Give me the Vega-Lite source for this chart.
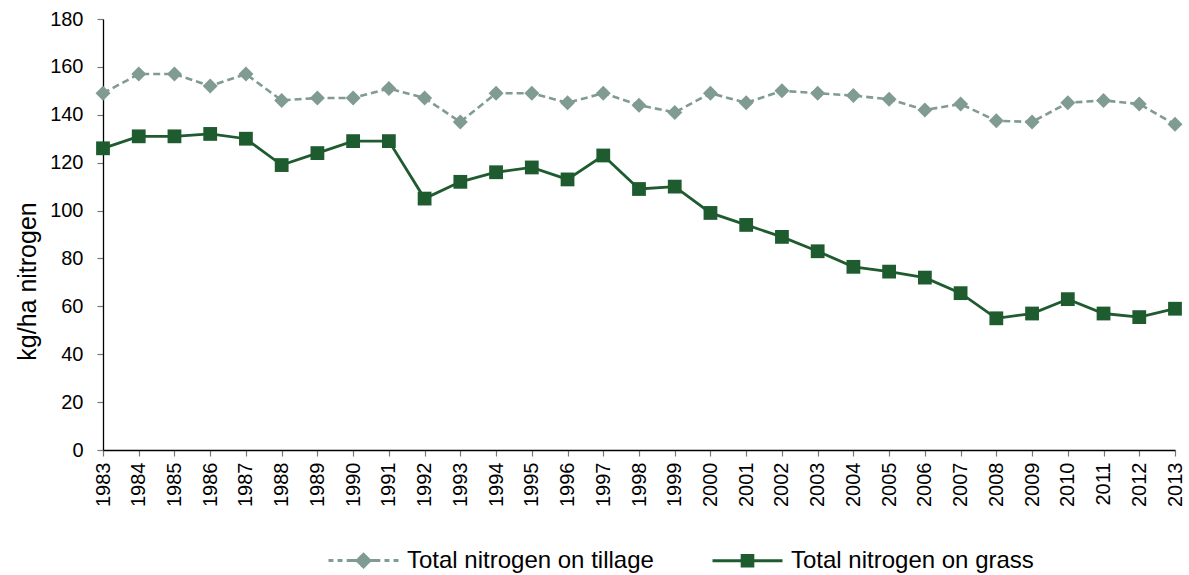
{
  "$schema": "https://vega.github.io/schema/vega-lite/v6.json",
  "width": 1072,
  "height": 431,
  "autosize": {"type": "none"},
  "padding": {"left": 103, "top": 19, "right": 14, "bottom": 125},
  "background": "white",
  "config": {
    "view": {"stroke": null},
    "font": "Liberation Sans",
    "axis": {"labelFont": "Liberation Sans", "titleFont": "Liberation Sans", "labelColor": "#000", "titleColor": "#000", "domainColor": "#000", "domainWidth": 1.3, "tickColor": "#777", "tickWidth": 1.2, "grid": false},
    "legend": {"labelFont": "Liberation Sans", "labelColor": "#000"}
  },
  "data": {
    "values": [
      {"year": "1983", "series": "Total nitrogen on tillage", "value": 149},
      {"year": "1984", "series": "Total nitrogen on tillage", "value": 157},
      {"year": "1985", "series": "Total nitrogen on tillage", "value": 157},
      {"year": "1986", "series": "Total nitrogen on tillage", "value": 152},
      {"year": "1987", "series": "Total nitrogen on tillage", "value": 157},
      {"year": "1988", "series": "Total nitrogen on tillage", "value": 146},
      {"year": "1989", "series": "Total nitrogen on tillage", "value": 147},
      {"year": "1990", "series": "Total nitrogen on tillage", "value": 147},
      {"year": "1991", "series": "Total nitrogen on tillage", "value": 151},
      {"year": "1992", "series": "Total nitrogen on tillage", "value": 147},
      {"year": "1993", "series": "Total nitrogen on tillage", "value": 137},
      {"year": "1994", "series": "Total nitrogen on tillage", "value": 149},
      {"year": "1995", "series": "Total nitrogen on tillage", "value": 149},
      {"year": "1996", "series": "Total nitrogen on tillage", "value": 145},
      {"year": "1997", "series": "Total nitrogen on tillage", "value": 149},
      {"year": "1998", "series": "Total nitrogen on tillage", "value": 144},
      {"year": "1999", "series": "Total nitrogen on tillage", "value": 141},
      {"year": "2000", "series": "Total nitrogen on tillage", "value": 149},
      {"year": "2001", "series": "Total nitrogen on tillage", "value": 145},
      {"year": "2002", "series": "Total nitrogen on tillage", "value": 150},
      {"year": "2003", "series": "Total nitrogen on tillage", "value": 149},
      {"year": "2004", "series": "Total nitrogen on tillage", "value": 148},
      {"year": "2005", "series": "Total nitrogen on tillage", "value": 146.5},
      {"year": "2006", "series": "Total nitrogen on tillage", "value": 142},
      {"year": "2007", "series": "Total nitrogen on tillage", "value": 144.5},
      {"year": "2008", "series": "Total nitrogen on tillage", "value": 137.5},
      {"year": "2009", "series": "Total nitrogen on tillage", "value": 137},
      {"year": "2010", "series": "Total nitrogen on tillage", "value": 145},
      {"year": "2011", "series": "Total nitrogen on tillage", "value": 146},
      {"year": "2012", "series": "Total nitrogen on tillage", "value": 144.5},
      {"year": "2013", "series": "Total nitrogen on tillage", "value": 136},
      {"year": "1983", "series": "Total nitrogen on grass", "value": 126},
      {"year": "1984", "series": "Total nitrogen on grass", "value": 131},
      {"year": "1985", "series": "Total nitrogen on grass", "value": 131},
      {"year": "1986", "series": "Total nitrogen on grass", "value": 132},
      {"year": "1987", "series": "Total nitrogen on grass", "value": 130},
      {"year": "1988", "series": "Total nitrogen on grass", "value": 119},
      {"year": "1989", "series": "Total nitrogen on grass", "value": 124},
      {"year": "1990", "series": "Total nitrogen on grass", "value": 129},
      {"year": "1991", "series": "Total nitrogen on grass", "value": 129},
      {"year": "1992", "series": "Total nitrogen on grass", "value": 105},
      {"year": "1993", "series": "Total nitrogen on grass", "value": 112},
      {"year": "1994", "series": "Total nitrogen on grass", "value": 116},
      {"year": "1995", "series": "Total nitrogen on grass", "value": 118},
      {"year": "1996", "series": "Total nitrogen on grass", "value": 113},
      {"year": "1997", "series": "Total nitrogen on grass", "value": 123},
      {"year": "1998", "series": "Total nitrogen on grass", "value": 109},
      {"year": "1999", "series": "Total nitrogen on grass", "value": 110},
      {"year": "2000", "series": "Total nitrogen on grass", "value": 99},
      {"year": "2001", "series": "Total nitrogen on grass", "value": 94},
      {"year": "2002", "series": "Total nitrogen on grass", "value": 89},
      {"year": "2003", "series": "Total nitrogen on grass", "value": 83},
      {"year": "2004", "series": "Total nitrogen on grass", "value": 76.5},
      {"year": "2005", "series": "Total nitrogen on grass", "value": 74.5},
      {"year": "2006", "series": "Total nitrogen on grass", "value": 72},
      {"year": "2007", "series": "Total nitrogen on grass", "value": 65.5},
      {"year": "2008", "series": "Total nitrogen on grass", "value": 55},
      {"year": "2009", "series": "Total nitrogen on grass", "value": 57},
      {"year": "2010", "series": "Total nitrogen on grass", "value": 63},
      {"year": "2011", "series": "Total nitrogen on grass", "value": 57},
      {"year": "2012", "series": "Total nitrogen on grass", "value": 55.5},
      {"year": "2013", "series": "Total nitrogen on grass", "value": 59}
    ]
  },
  "encoding": {
    "x": {
      "field": "year", "type": "ordinal",
      "scale": {"type": "point", "padding": 0},
      "axis": {"title": null, "labelAngle": -90, "labelFontSize": 20, "tickSize": 6, "labelPadding": 6}
    },
    "y": {
      "field": "value", "type": "quantitative",
      "scale": {"domain": [0, 180], "nice": false},
      "axis": {"values": [0, 20, 40, 60, 80, 100, 120, 140, 160, 180], "title": "kg/ha nitrogen", "titleFontSize": 25, "titleFontWeight": "normal", "titleX": -76, "titleY": 262, "titleAngle": -90, "titleAlign": "center", "titleBaseline": "middle", "labelFontSize": 20, "tickSize": 6, "labelPadding": 14}
    },
    "color": {
      "field": "series", "type": "nominal",
      "scale": {"domain": ["Total nitrogen on tillage", "Total nitrogen on grass"], "range": ["#7f9b92", "#1e5b2f"]},
      "legend": {
        "title": null, "orient": "none", "direction": "horizontal", "legendX": 245, "legendY": 526,
        "labelFontSize": 24, "labelLimit": 0, "labelOffset": 28, "columnPadding": 52,
        "symbolSize": 784, "symbolStrokeWidth": 3, "symbolDash": [1, 0],
        "encode": {
          "symbols": {
            "update": {
              "shape": {"signal": "datum.value === 'Total nitrogen on grass' ? 'M-2.5,0H2.5M-0.38,-0.38H0.38V0.38H-0.38Z' : 'M-2.5,0H-2.15M-1.85,0H-1.5M-1.2,0H-0.5M0.5,0H1.2M1.5,0H1.85M2.15,0H2.5M0,-0.45L0.45,0L0,0.45L-0.45,0Z'"},
              "fill": {"signal": "datum.value === 'Total nitrogen on grass' ? '#1e5b2f' : '#7f9b92'"},
              "stroke": {"signal": "datum.value === 'Total nitrogen on grass' ? '#1e5b2f' : '#7f9b92'"},
              "strokeWidth": {"value": 3},
              "opacity": {"value": 1}
            }
          }
        }
      }
    }
  },
  "layer": [
    {
      "transform": [{"filter": "datum.series === 'Total nitrogen on tillage'"}],
      "mark": {"type": "line", "strokeWidth": 2.6, "strokeDash": [7, 4]}
    },
    {
      "transform": [{"filter": "datum.series === 'Total nitrogen on grass'"}],
      "mark": {"type": "line", "strokeWidth": 2.8}
    },
    {
      "transform": [{"filter": "datum.series === 'Total nitrogen on tillage'"}],
      "mark": {"type": "point", "shape": "diamond", "filled": true, "size": 225, "opacity": 1}
    },
    {
      "transform": [{"filter": "datum.series === 'Total nitrogen on grass'"}],
      "mark": {"type": "point", "shape": "square", "filled": true, "size": 190, "opacity": 1}
    }
  ]
}
